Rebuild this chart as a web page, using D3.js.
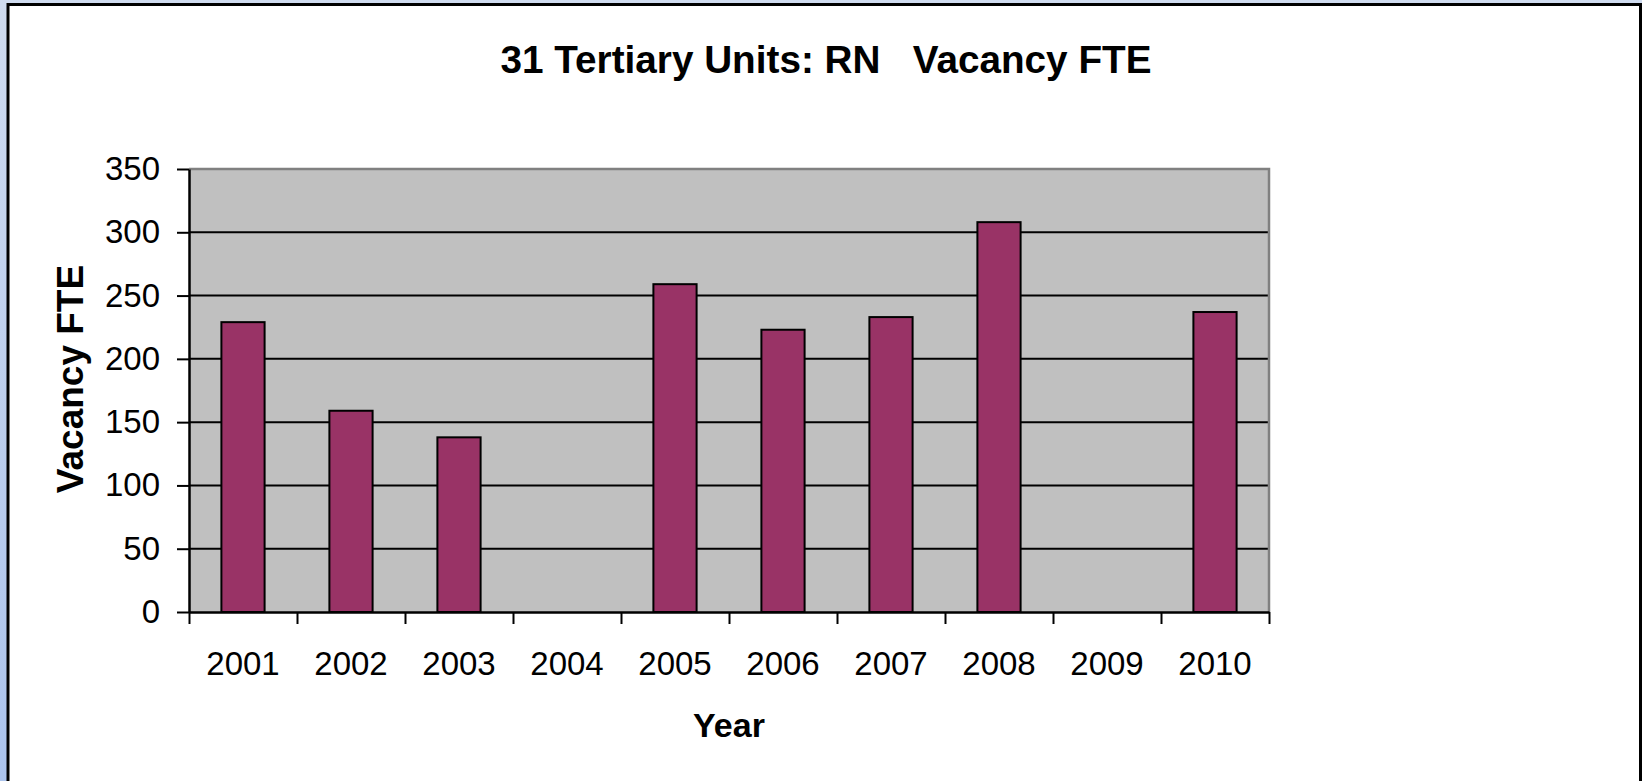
<!DOCTYPE html>
<html>
<head>
<meta charset="utf-8">
<script src="https://cdn.jsdelivr.net/npm/d3@7"></script>
<style>
  html, body { margin: 0; padding: 0; }
  body { width: 1642px; height: 781px; overflow: hidden; }
  text { font-family: "Liberation Sans", Arial, sans-serif; }
</style>
</head>
<body>
<div id="chart"></div>
<script>
// chart data
var years = ["2001", "2002", "2003", "2004", "2005", "2006", "2007", "2008", "2009", "2010"];
var vacancy = [229, 159, 138, null, 259, 223, 233, 308, null, 237];
var yTicks = [0, 50, 100, 150, 200, 250, 300, 350];

var svgWidth = 1642;
var svgHeight = 781;

var margin = { top: 169, right: 373, bottom: 169, left: 189 };
var chartWidth = svgWidth - margin.left - margin.right;   // 1080
var chartHeight = 612 - margin.top;                        // 443

var svg = d3.select("#chart")
  .append("svg")
  .attr("width", svgWidth)
  .attr("height", svgHeight);

// light blue slide background + framed white panel
var defs = svg.append("defs");
var grad = defs.append("linearGradient")
  .attr("id", "bg").attr("x1", 0).attr("y1", 0).attr("x2", 0).attr("y2", 1);
grad.append("stop").attr("offset", "0%").attr("stop-color", "#cfdbef");
grad.append("stop").attr("offset", "100%").attr("stop-color", "#abc3ec");

svg.append("rect")
  .attr("width", svgWidth).attr("height", svgHeight)
  .attr("fill", "url(#bg)");

svg.append("rect")
  .attr("x", 8).attr("y", 4.5)
  .attr("width", 1632.5).attr("height", 800)
  .attr("fill", "#ffffff")
  .attr("stroke", "#000000")
  .attr("stroke-width", 3);

var chartGroup = svg.append("g")
  .attr("transform", `translate(${margin.left}, ${margin.top})`);

// scales
var xBand = d3.scaleBand()
  .domain(years)
  .range([0, chartWidth])
  .padding(0);

var xEdge = d3.scaleLinear()
  .domain([0, years.length])
  .range([0, chartWidth]);

var yScale = d3.scaleLinear()
  .domain([0, 350])
  .range([chartHeight, 0]);

// plot area
chartGroup.append("rect")
  .attr("width", chartWidth)
  .attr("height", chartHeight)
  .attr("fill", "#c0c0c0");

// gridlines
chartGroup.selectAll(".grid")
  .data(yTicks.filter(d => d > 0 && d < 350))
  .enter()
  .append("line")
  .attr("class", "grid")
  .attr("x1", 0)
  .attr("x2", chartWidth)
  .attr("y1", d => yScale(d))
  .attr("y2", d => yScale(d))
  .attr("stroke", "#000000")
  .attr("stroke-width", 2);

// plot border, top and right are grey
chartGroup.append("path")
  .attr("d", `M0,${yScale(350)}H${chartWidth}V${chartHeight}`)
  .attr("fill", "none")
  .attr("stroke", "#808080")
  .attr("stroke-width", 2.5);

// bars
var barW = xBand.bandwidth() * 0.4;
chartGroup.selectAll(".bar")
  .data(years.map((y, i) => ({ year: y, value: vacancy[i] })).filter(d => d.value != null))
  .enter()
  .append("rect")
  .attr("class", "bar")
  .attr("x", d => xBand(d.year) + (xBand.bandwidth() - barW) / 2)
  .attr("y", d => yScale(d.value))
  .attr("width", barW)
  .attr("height", d => chartHeight - yScale(d.value))
  .attr("fill", "#993366")
  .attr("stroke", "#000000")
  .attr("stroke-width", 2);

// y axis
var yAxis = d3.axisLeft(yScale)
  .tickValues(yTicks)
  .tickSize(12)
  .tickPadding(17)
  .tickSizeOuter(0);

var yG = chartGroup.append("g").call(yAxis);
yG.select(".domain").attr("stroke-width", 2.5);
yG.selectAll(".tick line").attr("stroke-width", 2);
yG.selectAll("text")
  .attr("font-size", "33px")
  .attr("font-family", "Liberation Sans, Arial, sans-serif")
  .attr("fill", "#000000");

// x axis: ticks between categories
var xTickAxis = d3.axisBottom(xEdge)
  .tickValues(d3.range(0, years.length + 1))
  .tickSize(12)
  .tickSizeOuter(0)
  .tickFormat("");

var xTickG = chartGroup.append("g")
  .attr("transform", `translate(0, ${chartHeight})`)
  .call(xTickAxis);
xTickG.select(".domain").attr("stroke-width", 2.5);
xTickG.selectAll(".tick line").attr("stroke-width", 2);

// x axis labels
var xLabelAxis = d3.axisBottom(xBand)
  .tickSize(0)
  .tickPadding(40);

var xLabelG = chartGroup.append("g")
  .attr("transform", `translate(0, ${chartHeight})`)
  .call(xLabelAxis);
xLabelG.select(".domain").remove();
xLabelG.selectAll("text")
  .attr("font-size", "33px")
  .attr("font-family", "Liberation Sans, Arial, sans-serif")
  .attr("fill", "#000000");

// title
svg.append("text")
  .attr("x", 826)
  .attr("y", 73)
  .attr("text-anchor", "middle")
  .attr("font-size", "39px")
  .attr("font-weight", "bold")
  .attr("textLength", 651)
  .attr("lengthAdjust", "spacingAndGlyphs")
  .style("white-space", "pre")
  .text("31 Tertiary Units: RN   Vacancy FTE");

// axis titles
svg.append("text")
  .attr("x", margin.left + chartWidth / 2)
  .attr("y", 737)
  .attr("text-anchor", "middle")
  .attr("font-size", "34px")
  .attr("font-weight", "bold")
  .text("Year");

svg.append("text")
  .attr("transform", "translate(83, 379) rotate(-90)")
  .attr("text-anchor", "middle")
  .attr("font-size", "37px")
  .attr("font-weight", "bold")
  .text("Vacancy FTE");
</script>
</body>
</html>
